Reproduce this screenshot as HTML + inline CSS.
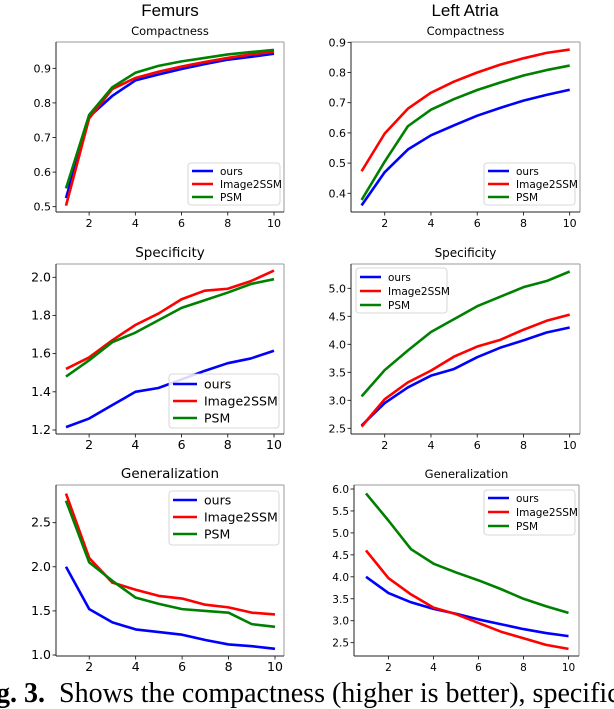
<!DOCTYPE html>
<html><head><meta charset="utf-8">
<style>
body{margin:0;background:#fff;width:614px;height:704px;overflow:hidden;position:relative;font-family:"DejaVu Sans","Liberation Sans",sans-serif}
svg{position:absolute;left:0;top:0}
.cap{position:absolute;left:-4px;top:679px;line-height:30px;font-family:"Liberation Serif",serif;font-size:28px;white-space:nowrap;color:#000}
</style></head><body>
<svg id="fig" width="614" height="704"></svg>
<div class="cap"><b>g. 3.</b>&nbsp; Shows the compactness (higher is better), specific</div>
<script>
const xs=[1,2,3,4,5,6,7,8,9,10];
const seriesNames=["ours","Image2SSM","PSM"];
const colors=["#0000ff","#ff0000","#008000"];
const femCompOurs=[0.525,0.76,0.82,0.865,0.882,0.898,0.912,0.925,0.933,0.942];
const femCompI2S=[0.503,0.755,0.84,0.872,0.89,0.905,0.918,0.93,0.94,0.948];
const femCompPSM=[0.553,0.765,0.845,0.887,0.907,0.92,0.93,0.94,0.947,0.953];
const laCompOurs=[0.36,0.47,0.545,0.592,0.625,0.657,0.683,0.707,0.726,0.743];
const laCompI2S=[0.473,0.598,0.68,0.733,0.77,0.8,0.826,0.847,0.865,0.876];
const laCompPSM=[0.378,0.505,0.622,0.677,0.712,0.742,0.767,0.79,0.808,0.823];
const femSpecOurs=[1.215,1.26,1.33,1.4,1.42,1.465,1.51,1.55,1.575,1.615];
const femSpecI2S=[1.52,1.58,1.67,1.75,1.81,1.885,1.93,1.94,1.98,2.035];
const femSpecPSM=[1.48,1.565,1.66,1.71,1.775,1.84,1.88,1.92,1.965,1.99];
const laSpecOurs=[2.55,2.95,3.23,3.44,3.56,3.77,3.94,4.07,4.21,4.3];
const laSpecI2S=[2.53,3.02,3.32,3.53,3.78,3.96,4.08,4.26,4.42,4.53];
const laSpecPSM=[3.07,3.54,3.89,4.22,4.45,4.68,4.85,5.02,5.13,5.3];
const femGenOurs=[2.0,1.52,1.37,1.29,1.26,1.23,1.17,1.12,1.1,1.07];
const femGenI2S=[2.83,2.1,1.82,1.74,1.67,1.64,1.57,1.54,1.48,1.46];
const femGenPSM=[2.75,2.05,1.84,1.65,1.58,1.52,1.5,1.48,1.35,1.32];
const laGenOurs=[4.0,3.63,3.42,3.27,3.16,3.03,2.92,2.81,2.72,2.65];
const laGenI2S=[4.6,3.97,3.6,3.3,3.15,2.95,2.75,2.6,2.45,2.36];
const laGenPSM=[5.9,5.28,4.63,4.3,4.1,3.92,3.72,3.5,3.33,3.18];
const xTicks=[2,4,6,8,10];
const femCompTicks=["0.5","0.6","0.7","0.8","0.9"];
const laCompTicks=["0.4","0.5","0.6","0.7","0.8","0.9"];
const femSpecTicks=["1.2","1.4","1.6","1.8","2.0"];
const laSpecTicks=["2.5","3.0","3.5","4.0","4.5","5.0"];
const femGenTicks=["1.0","1.5","2.0","2.5"];
const laGenTicks=["2.5","3.0","3.5","4.0","4.5","5.0","5.5","6.0"];

const NS="http://www.w3.org/2000/svg";
const svg=document.getElementById('fig');
function mk(tag,attrs,parent){const e=document.createElementNS(NS,tag);for(const k in attrs)e.setAttribute(k,attrs[k]);(parent||svg).appendChild(e);return e;}

function chart(cfg){
  const g=mk('g',{});
  
  
  const {L,T,R,B,x1,x10,yv0,yp0,yv1,yp1}=cfg;
  const sx=v=>x1+(v-1)*(x10-x1)/9;
  const sy=v=>yp0+(v-yv0)*(yp1-yp0)/(yv1-yv0);
  const t=mk('text',{x:(L+R)/2,y:T-7,'text-anchor':'middle','font-size':cfg.tfs,fill:'#000'},g);
  t.textContent=cfg.title;
  
  
  xTicks.forEach(v=>{
    const x=sx(v);
    mk('line',{x1:x,x2:x,y1:B,y2:B+3.5,stroke:'#000','stroke-width':0.8},g);
    const tx=mk('text',{x:x,y:B+15,'text-anchor':'middle','font-size':cfg.fs,fill:'#000'},g);
    tx.textContent=v;
    
    
  });
  cfg.ticks.forEach(s=>{
    const y=sy(parseFloat(s));
    mk('line',{x1:L-3.5,x2:L,y1:y,y2:y,stroke:'#000','stroke-width':0.8},g);
    const ty=mk('text',{x:L-5,y:y+4,'text-anchor':'end','font-size':cfg.fs,fill:'#000'},g);
    ty.textContent=s;
    
    
  });
  cfg.data.forEach((arr,i)=>{
    const p=mk('polyline',{points:arr.map((v,j)=>sx(xs[j])+','+sy(v)).join(' '),fill:'none',stroke:colors[i],'stroke-width':2.6,'stroke-linejoin':'round'},g);
    
    
  });
  mk('line',{x1:L,y1:T,x2:R,y2:T,stroke:'#999','stroke-width':1},g);
  mk('line',{x1:R,y1:T,x2:R,y2:B,stroke:'#999','stroke-width':1},g);
  mk('line',{x1:L,y1:T,x2:L,y2:B,stroke:'#222','stroke-width':1},g);
  mk('line',{x1:L,y1:B,x2:R,y2:B,stroke:'#222','stroke-width':1},g);
  const lg=cfg.leg;
  const lgG=mk('g',{},g);
  
  
  mk('rect',{x:lg.x,y:lg.y,width:lg.w,height:lg.h,rx:3,fill:'#fff','fill-opacity':0.85,stroke:'#ccc','stroke-width':0.8},lgG);
  seriesNames.forEach((n,i)=>{
    const y=lg.y+lg.pad+i*lg.step;
    mk('line',{x1:lg.x+4,x2:lg.x+4+lg.len,y1:y,y2:y,stroke:colors[i],'stroke-width':2.6},lgG);
    const tt=mk('text',{x:lg.x+lg.len+11,y:y+lg.fs*0.36,'font-size':lg.fs,fill:'#000'},lgG);
    tt.textContent=n;
    
    
  });
}

const hd1=mk('text',{x:170,y:16,'text-anchor':'middle','font-size':17,'font-family':'Liberation Sans'});
hd1.textContent='Femurs';


const hd2=mk('text',{x:465,y:16,'text-anchor':'middle','font-size':17,'font-family':'Liberation Sans'});
hd2.textContent='Left Atria';



chart({name:'femurs-compactness-chart',title:'Compactness',tfs:11.5,fs:11,L:56,T:42,R:284,B:212,x1:66,x10:274,yv0:0.5,yp0:206.7,yv1:0.9,yp1:68.3,ticks:femCompTicks,data:[femCompOurs,femCompI2S,femCompPSM],leg:{x:188,y:163,w:92,h:42,pad:8,step:13,len:21,fs:10.5}});
chart({name:'left-atria-compactness-chart',title:'Compactness',tfs:11.5,fs:11,L:351,T:42,R:580,B:212,x1:361.6,x10:569.7,yv0:0.4,yp0:193.3,yv1:0.9,yp1:42.3,ticks:laCompTicks,data:[laCompOurs,laCompI2S,laCompPSM],leg:{x:484,y:163,w:91,h:42,pad:8,step:13,len:21,fs:10.5}});
chart({name:'femurs-specificity-chart',title:'Specificity',tfs:13.5,fs:12.5,L:56,T:264,R:284,B:434,x1:66,x10:274,yv0:1.2,yp0:430,yv1:2.0,yp1:277.3,ticks:femSpecTicks,data:[femSpecOurs,femSpecI2S,femSpecPSM],leg:{x:169,y:374,w:110,h:54,pad:10,step:17,len:24,fs:12.5}});
chart({name:'left-atria-specificity-chart',title:'Specificity',tfs:12,fs:11,L:351,T:264,R:580,B:434,x1:361.6,x10:569.7,yv0:2.5,yp0:428.3,yv1:5.0,yp1:288.3,ticks:laSpecTicks,data:[laSpecOurs,laSpecI2S,laSpecPSM],leg:{x:356,y:268,w:91,h:45,pad:9,step:14,len:21,fs:10.5}});
chart({name:'femurs-generalization-chart',title:'Generalization',tfs:13.5,fs:12.5,L:56,T:485,R:284,B:656,x1:66,x10:275,yv0:1.0,yp0:655,yv1:2.5,yp1:522.7,ticks:femGenTicks,data:[femGenOurs,femGenI2S,femGenPSM],leg:{x:169,y:491,w:110,h:54,pad:9,step:17,len:24,fs:12.5}});
chart({name:'left-atria-generalization-chart',title:'Generalization',tfs:11.5,fs:10.5,L:354,T:485,R:579,B:656,x1:366,x10:568.5,yv0:2.5,yp0:642.7,yv1:6.0,yp1:489,ticks:laGenTicks,data:[laGenOurs,laGenI2S,laGenPSM],leg:{x:484,y:490,w:91,h:45,pad:8,step:14,len:21,fs:10.5}});
</script>
</body></html>
